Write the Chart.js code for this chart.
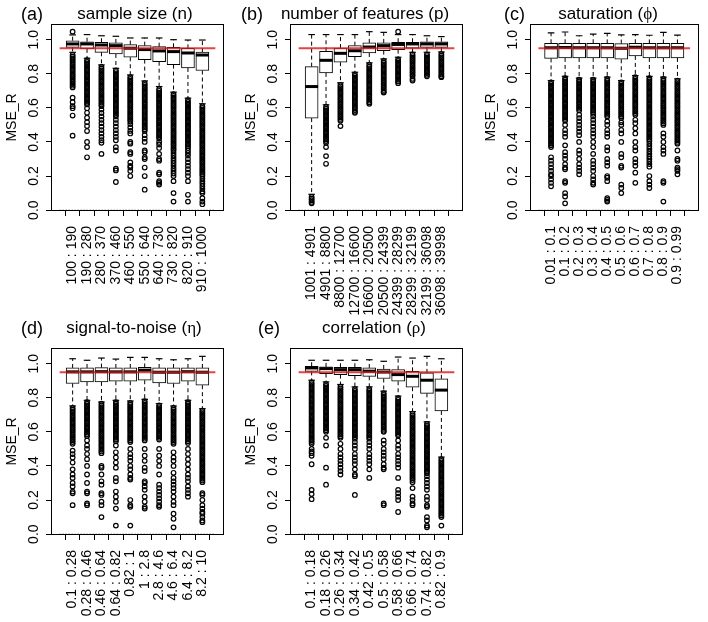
<!DOCTYPE html>
<html>
<head>
<meta charset="utf-8">
<script src="https://cdn.jsdelivr.net/npm/chart.js@4.4.1/dist/chart.umd.min.js"></script>
<style>
  body { margin: 0; width: 708px; height: 622px; background: #fff; position: relative; overflow: hidden;
         font-family: 'Liberation Sans', Arial, sans-serif; color: #000; }
  canvas { position: absolute; }
  .tag { position: absolute; font-size: 18px; line-height: 22px; white-space: nowrap; }
  .title { position: absolute; font-size: 17px; line-height: 20px; white-space: nowrap; transform: translateX(-50%); }
  .greek { font-family: 'Liberation Serif', 'DejaVu Serif', serif; }
</style>
</head>
<body>
<canvas id="panelA" width="236" height="330" style="left:1px;top:0"></canvas>
<canvas id="panelB" width="236" height="330" style="left:240px;top:0"></canvas>
<canvas id="panelC" width="228" height="330" style="left:480px;top:0"></canvas>
<canvas id="panelD" width="236" height="298" style="left:1px;top:324px"></canvas>
<canvas id="panelE" width="236" height="298" style="left:240px;top:324px"></canvas>

<div class="tag" style="left:21px;top:3px">(a)</div>
<div class="title" style="left:135px;top:4px">sample size (n)</div>
<div class="tag" style="left:241px;top:3px">(b)</div>
<div class="title" style="left:365px;top:4px">number of features (p)</div>
<div class="tag" style="left:504px;top:3px">(c)</div>
<div class="title" style="left:608px;top:4px">saturation (<span class="greek">ϕ</span>)</div>
<div class="tag" style="left:21px;top:317px">(d)</div>
<div class="title" style="left:134px;top:318px">signal-to-noise (<span class="greek">η</span>)</div>
<div class="tag" style="left:258px;top:317px">(e)</div>
<div class="title" style="left:374px;top:318px">correlation (<span class="greek">ρ</span>)</div>

<script>
Chart.defaults.font.family = "'Liberation Sans', Arial, sans-serif";
Chart.defaults.color = '#000';

const yTicks = [0, 0.2, 0.4, 0.6, 0.8, 1.0];
const refLevel = 0.95;

// (a) sample size
const aLabels = ['100 : 190', '190 : 280', '280 : 370', '370 : 460', '460 : 550', '550 : 640', '640 : 730', '730 : 820', '820 : 910', '910 : 1000'];
const aUpper = [1.028, 1.03, 1.023, 1.02, 1.01, 1.01, 1.01, 1.0, 0.998, 0.998];
const aQ3 = [0.994, 0.988, 0.985, 0.981, 0.971, 0.965, 0.959, 0.955, 0.949, 0.927];
const aMedian = [0.975, 0.975, 0.969, 0.965, 0.95, 0.942, 0.934, 0.93, 0.922, 0.91];
const aQ1 = [0.955, 0.946, 0.926, 0.916, 0.897, 0.883, 0.871, 0.854, 0.834, 0.819];
const aLower = [0.926, 0.891, 0.852, 0.832, 0.793, 0.758, 0.725, 0.692, 0.657, 0.624];
const aOut = [
  [1.047, 0.91, 0.9, 0.89, 0.88, 0.87, 0.86, 0.85, 0.84, 0.83, 0.82, 0.81, 0.8, 0.79, 0.78, 0.77, 0.76, 0.75, 0.74, 0.73, 0.72, 0.66, 0.633, 0.61, 0.598, 0.555, 0.437],
  [0.88, 0.87, 0.86, 0.85, 0.84, 0.83, 0.82, 0.81, 0.8, 0.79, 0.78, 0.77, 0.76, 0.75, 0.74, 0.73, 0.72, 0.71, 0.7, 0.69, 0.68, 0.67, 0.66, 0.65, 0.64, 0.63, 0.62, 0.598, 0.571, 0.542, 0.516, 0.493, 0.464, 0.4, 0.37, 0.31],
  [0.84, 0.83, 0.82, 0.81, 0.8, 0.79, 0.78, 0.77, 0.76, 0.75, 0.74, 0.73, 0.72, 0.71, 0.7, 0.69, 0.68, 0.67, 0.66, 0.65, 0.64, 0.63, 0.62, 0.61, 0.59, 0.57, 0.55, 0.53, 0.51, 0.49, 0.47, 0.45, 0.43, 0.41, 0.395, 0.33],
  [0.82, 0.81, 0.8, 0.79, 0.78, 0.77, 0.76, 0.75, 0.74, 0.73, 0.72, 0.71, 0.7, 0.69, 0.68, 0.67, 0.66, 0.65, 0.64, 0.63, 0.62, 0.61, 0.6, 0.59, 0.58, 0.57, 0.56, 0.55, 0.53, 0.51, 0.49, 0.47, 0.45, 0.43, 0.41, 0.37, 0.35, 0.243, 0.233, 0.165],
  [0.78, 0.77, 0.76, 0.75, 0.74, 0.73, 0.72, 0.71, 0.7, 0.69, 0.68, 0.67, 0.66, 0.65, 0.64, 0.63, 0.62, 0.61, 0.6, 0.59, 0.58, 0.57, 0.56, 0.55, 0.54, 0.53, 0.52, 0.505, 0.485, 0.465, 0.45, 0.4, 0.39, 0.34, 0.33, 0.28, 0.26, 0.25, 0.23, 0.2],
  [0.745, 0.735, 0.725, 0.715, 0.705, 0.695, 0.685, 0.675, 0.665, 0.655, 0.645, 0.635, 0.625, 0.615, 0.605, 0.595, 0.585, 0.575, 0.565, 0.555, 0.545, 0.535, 0.525, 0.515, 0.505, 0.495, 0.485, 0.475, 0.465, 0.44, 0.42, 0.4, 0.35, 0.34, 0.31, 0.3, 0.25, 0.2, 0.12],
  [0.71, 0.7, 0.69, 0.68, 0.67, 0.66, 0.65, 0.64, 0.63, 0.62, 0.61, 0.6, 0.59, 0.58, 0.57, 0.56, 0.55, 0.54, 0.53, 0.52, 0.51, 0.5, 0.49, 0.48, 0.47, 0.46, 0.45, 0.44, 0.43, 0.42, 0.4, 0.385, 0.365, 0.33, 0.3, 0.29, 0.22, 0.21, 0.17, 0.16, 0.15],
  [0.68, 0.67, 0.66, 0.65, 0.64, 0.63, 0.62, 0.61, 0.6, 0.59, 0.58, 0.57, 0.56, 0.55, 0.54, 0.53, 0.52, 0.51, 0.5, 0.49, 0.48, 0.47, 0.46, 0.45, 0.44, 0.43, 0.42, 0.41, 0.4, 0.39, 0.38, 0.37, 0.36, 0.35, 0.335, 0.32, 0.305, 0.29, 0.275, 0.26, 0.245, 0.23, 0.215, 0.2, 0.17, 0.1, 0.05],
  [0.645, 0.635, 0.625, 0.615, 0.605, 0.595, 0.585, 0.575, 0.565, 0.555, 0.545, 0.535, 0.525, 0.515, 0.505, 0.495, 0.485, 0.475, 0.465, 0.455, 0.445, 0.435, 0.425, 0.415, 0.405, 0.395, 0.385, 0.375, 0.365, 0.35, 0.335, 0.32, 0.3, 0.28, 0.26, 0.24, 0.22, 0.2, 0.17, 0.09, 0.05],
  [0.61, 0.6, 0.59, 0.58, 0.57, 0.56, 0.55, 0.54, 0.53, 0.52, 0.51, 0.5, 0.49, 0.48, 0.47, 0.46, 0.45, 0.44, 0.43, 0.42, 0.41, 0.4, 0.39, 0.38, 0.37, 0.36, 0.35, 0.34, 0.33, 0.32, 0.31, 0.3, 0.29, 0.28, 0.27, 0.26, 0.25, 0.24, 0.23, 0.22, 0.21, 0.2, 0.185, 0.17, 0.155, 0.14, 0.125, 0.11, 0.1, 0.07, 0.05, 0.035]
];

// (b) number of features
const bLabels = ['1001 : 4901', '4901 : 8800', '8800 : 12700', '12700 : 16600', '16600 : 20500', '20500 : 24399', '24399 : 28299', '28299 : 32199', '32199 : 36098', '36098 : 39998'];
const bUpper = [1.03, 1.03, 1.03, 1.03, 1.047, 1.043, 1.03, 1.03, 1.023, 1.018];
const bQ3 = [0.842, 0.932, 0.951, 0.965, 0.981, 0.981, 0.985, 0.985, 0.988, 0.988];
const bMedian = [0.725, 0.879, 0.92, 0.935, 0.957, 0.965, 0.972, 0.975, 0.975, 0.975];
const bQ1 = [0.54, 0.805, 0.868, 0.9, 0.922, 0.936, 0.942, 0.95, 0.955, 0.955];
const bLower = [0.093, 0.618, 0.747, 0.809, 0.864, 0.887, 0.897, 0.926, 0.926, 0.928];
const bOut = [
  [0.077, 0.067, 0.058, 0.048, 0.04],
  [0.605, 0.595, 0.585, 0.575, 0.565, 0.555, 0.545, 0.535, 0.525, 0.515, 0.505, 0.495, 0.485, 0.475, 0.465, 0.455, 0.445, 0.435, 0.425, 0.415, 0.405, 0.395, 0.37, 0.317, 0.272],
  [0.735, 0.725, 0.715, 0.705, 0.695, 0.685, 0.675, 0.665, 0.655, 0.645, 0.635, 0.625, 0.615, 0.605, 0.595, 0.585, 0.575, 0.565, 0.555, 0.545, 0.535, 0.525, 0.493],
  [0.797, 0.787, 0.777, 0.767, 0.757, 0.747, 0.737, 0.727, 0.717, 0.707, 0.697, 0.687, 0.677, 0.667, 0.657, 0.647, 0.637, 0.627, 0.617, 0.607, 0.597, 0.587, 0.577, 0.571],
  [0.852, 0.842, 0.832, 0.822, 0.812, 0.802, 0.792, 0.782, 0.772, 0.762, 0.752, 0.742, 0.732, 0.722, 0.712, 0.702, 0.692, 0.682, 0.672, 0.662, 0.652, 0.642, 0.632, 0.624],
  [0.875, 0.865, 0.855, 0.845, 0.835, 0.825, 0.815, 0.805, 0.795, 0.785, 0.775, 0.765, 0.755, 0.745, 0.735, 0.725, 0.715, 0.705, 0.695, 0.69],
  [1.047, 0.885, 0.875, 0.865, 0.855, 0.845, 0.835, 0.825, 0.815, 0.805, 0.795, 0.785, 0.775, 0.765, 0.755, 0.745],
  [0.914, 0.904, 0.894, 0.884, 0.874, 0.864, 0.854, 0.844, 0.834, 0.824, 0.814, 0.804, 0.794, 0.785, 0.77, 0.76],
  [0.914, 0.904, 0.894, 0.884, 0.874, 0.864, 0.854, 0.844, 0.834, 0.824, 0.814, 0.804, 0.794, 0.785],
  [0.916, 0.906, 0.896, 0.886, 0.876, 0.866, 0.856, 0.846, 0.836, 0.826, 0.816, 0.806, 0.796, 0.786, 0.78]
];

// (c) saturation
const cLabels = ['0.01 : 0.1', '0.1 : 0.2', '0.2 : 0.3', '0.3 : 0.4', '0.4 : 0.5', '0.5 : 0.6', '0.6 : 0.7', '0.7 : 0.8', '0.8 : 0.9', '0.9 : 0.99'];
const cUpper = [1.04, 1.045, 1.023, 1.033, 1.037, 1.028, 1.03, 1.026, 1.043, 1.027];
const cQ3 = [0.979, 0.979, 0.978, 0.979, 0.978, 0.977, 0.979, 0.978, 0.978, 0.978];
const cMedian = [0.953, 0.954, 0.953, 0.953, 0.953, 0.95, 0.955, 0.953, 0.953, 0.952];
const cQ1 = [0.89, 0.893, 0.893, 0.893, 0.893, 0.885, 0.905, 0.893, 0.893, 0.893];
const cLower = [0.76, 0.785, 0.774, 0.774, 0.78, 0.76, 0.79, 0.785, 0.78, 0.77];
const cOut = [
  [0.75, 0.74, 0.73, 0.72, 0.71, 0.7, 0.69, 0.68, 0.67, 0.66, 0.65, 0.64, 0.63, 0.62, 0.61, 0.6, 0.59, 0.58, 0.57, 0.56, 0.55, 0.54, 0.53, 0.52, 0.51, 0.5, 0.49, 0.48, 0.47, 0.46, 0.45, 0.44, 0.43, 0.42, 0.41, 0.4, 0.39, 0.38, 0.37, 0.31, 0.29, 0.27, 0.25, 0.23, 0.21, 0.2, 0.18, 0.16, 0.14],
  [0.775, 0.765, 0.755, 0.745, 0.735, 0.725, 0.715, 0.705, 0.695, 0.685, 0.675, 0.665, 0.655, 0.645, 0.635, 0.625, 0.615, 0.605, 0.595, 0.585, 0.575, 0.565, 0.555, 0.545, 0.535, 0.525, 0.5, 0.47, 0.45, 0.43, 0.38, 0.34, 0.32, 0.3, 0.27, 0.25, 0.24, 0.17, 0.16, 0.1, 0.08, 0.04],
  [0.765, 0.755, 0.745, 0.735, 0.725, 0.715, 0.705, 0.695, 0.685, 0.675, 0.665, 0.655, 0.645, 0.635, 0.625, 0.615, 0.605, 0.595, 0.585, 0.56, 0.54, 0.52, 0.5, 0.48, 0.46, 0.44, 0.4, 0.35, 0.33, 0.3, 0.27, 0.25, 0.23, 0.21],
  [0.765, 0.755, 0.745, 0.735, 0.725, 0.715, 0.705, 0.695, 0.685, 0.675, 0.665, 0.655, 0.645, 0.635, 0.625, 0.615, 0.605, 0.595, 0.585, 0.575, 0.565, 0.55, 0.53, 0.51, 0.49, 0.47, 0.45, 0.43, 0.4, 0.37, 0.33, 0.29, 0.27, 0.25, 0.23, 0.2, 0.18, 0.16, 0.15],
  [0.77, 0.76, 0.75, 0.74, 0.73, 0.72, 0.71, 0.7, 0.69, 0.68, 0.67, 0.66, 0.65, 0.64, 0.63, 0.62, 0.61, 0.6, 0.59, 0.58, 0.57, 0.56, 0.55, 0.52, 0.5, 0.47, 0.45, 0.43, 0.37, 0.35, 0.3, 0.28, 0.26, 0.2, 0.19, 0.17, 0.07, 0.06, 0.05],
  [0.75, 0.74, 0.73, 0.72, 0.71, 0.7, 0.69, 0.68, 0.67, 0.66, 0.65, 0.64, 0.63, 0.62, 0.61, 0.6, 0.59, 0.58, 0.57, 0.56, 0.55, 0.54, 0.515, 0.5, 0.47, 0.45, 0.4, 0.33, 0.31, 0.26, 0.25, 0.15, 0.13, 0.1],
  [0.78, 0.77, 0.76, 0.75, 0.74, 0.73, 0.72, 0.71, 0.7, 0.69, 0.68, 0.67, 0.66, 0.65, 0.64, 0.63, 0.62, 0.61, 0.6, 0.59, 0.58, 0.57, 0.56, 0.53, 0.51, 0.48, 0.45, 0.4, 0.37, 0.35, 0.3, 0.28, 0.26, 0.22, 0.16],
  [0.775, 0.765, 0.755, 0.745, 0.735, 0.725, 0.715, 0.705, 0.695, 0.685, 0.675, 0.665, 0.655, 0.645, 0.635, 0.625, 0.615, 0.605, 0.595, 0.585, 0.575, 0.565, 0.555, 0.545, 0.535, 0.525, 0.515, 0.505, 0.495, 0.485, 0.475, 0.465, 0.455, 0.445, 0.435, 0.425, 0.415, 0.405, 0.39, 0.375, 0.36, 0.345, 0.33, 0.315, 0.3, 0.285, 0.27, 0.255, 0.2, 0.17, 0.15, 0.13],
  [0.77, 0.76, 0.75, 0.74, 0.73, 0.72, 0.71, 0.7, 0.69, 0.68, 0.67, 0.66, 0.65, 0.64, 0.63, 0.62, 0.61, 0.6, 0.59, 0.58, 0.57, 0.56, 0.55, 0.54, 0.53, 0.52, 0.51, 0.5, 0.45, 0.43, 0.4, 0.37, 0.35, 0.33, 0.17, 0.16, 0.05],
  [0.76, 0.75, 0.74, 0.73, 0.72, 0.71, 0.7, 0.69, 0.68, 0.67, 0.66, 0.65, 0.64, 0.63, 0.62, 0.61, 0.6, 0.59, 0.58, 0.57, 0.56, 0.55, 0.54, 0.53, 0.52, 0.51, 0.5, 0.49, 0.48, 0.47, 0.46, 0.45, 0.44, 0.43, 0.42, 0.41, 0.4, 0.39, 0.35, 0.3, 0.29, 0.25, 0.24, 0.23, 0.21]
];

// (d) signal-to-noise
const dLabels = ['0.1 : 0.28', '0.28 : 0.46', '0.46 : 0.64', '0.64 : 0.82', '0.82 : 1', '1 : 2.8', '2.8 : 4.6', '4.6 : 6.4', '6.4 : 8.2', '8.2 : 10'];
const dUpper = [1.029, 1.02, 1.033, 1.027, 1.037, 1.037, 1.029, 1.023, 1.029, 1.043];
const dQ3 = [0.975, 0.975, 0.977, 0.975, 0.975, 0.978, 0.975, 0.975, 0.975, 0.975];
const dMedian = [0.952, 0.952, 0.953, 0.952, 0.952, 0.962, 0.95, 0.95, 0.953, 0.95];
const dQ1 = [0.884, 0.893, 0.893, 0.897, 0.897, 0.903, 0.887, 0.884, 0.897, 0.874];
const dLower = [0.752, 0.785, 0.775, 0.785, 0.781, 0.791, 0.766, 0.752, 0.785, 0.736];
const dOut = [
  [0.74, 0.73, 0.72, 0.71, 0.7, 0.69, 0.68, 0.67, 0.66, 0.65, 0.64, 0.63, 0.62, 0.61, 0.6, 0.59, 0.58, 0.57, 0.56, 0.55, 0.54, 0.53, 0.49, 0.47, 0.45, 0.42, 0.38, 0.35, 0.33, 0.3, 0.28, 0.25, 0.24, 0.17],
  [0.775, 0.765, 0.755, 0.745, 0.735, 0.725, 0.715, 0.705, 0.695, 0.685, 0.675, 0.665, 0.655, 0.645, 0.635, 0.625, 0.615, 0.605, 0.595, 0.585, 0.575, 0.55, 0.52, 0.5, 0.47, 0.44, 0.4, 0.35, 0.3, 0.25, 0.24, 0.18, 0.17],
  [0.765, 0.755, 0.745, 0.735, 0.725, 0.715, 0.705, 0.695, 0.685, 0.675, 0.665, 0.655, 0.645, 0.635, 0.625, 0.615, 0.605, 0.595, 0.585, 0.575, 0.565, 0.555, 0.545, 0.535, 0.525, 0.515, 0.505, 0.495, 0.485, 0.475, 0.4, 0.39, 0.35, 0.31, 0.29, 0.24, 0.23, 0.19, 0.17, 0.1],
  [0.775, 0.765, 0.755, 0.745, 0.735, 0.725, 0.715, 0.705, 0.695, 0.685, 0.675, 0.665, 0.655, 0.645, 0.635, 0.625, 0.615, 0.605, 0.595, 0.585, 0.575, 0.565, 0.555, 0.545, 0.52, 0.48, 0.45, 0.42, 0.39, 0.33, 0.31, 0.25, 0.22, 0.19, 0.15, 0.05],
  [0.77, 0.76, 0.75, 0.74, 0.73, 0.72, 0.71, 0.7, 0.69, 0.68, 0.67, 0.66, 0.65, 0.64, 0.63, 0.62, 0.61, 0.6, 0.59, 0.58, 0.57, 0.56, 0.55, 0.54, 0.5, 0.47, 0.45, 0.43, 0.4, 0.38, 0.35, 0.33, 0.32, 0.2, 0.17, 0.16, 0.05],
  [0.78, 0.77, 0.76, 0.75, 0.74, 0.73, 0.72, 0.71, 0.7, 0.69, 0.68, 0.67, 0.66, 0.65, 0.64, 0.63, 0.62, 0.61, 0.6, 0.59, 0.58, 0.57, 0.56, 0.55, 0.5, 0.46, 0.43, 0.39, 0.37, 0.31, 0.3, 0.28, 0.26, 0.22, 0.19, 0.16, 0.15],
  [0.755, 0.745, 0.735, 0.725, 0.715, 0.705, 0.695, 0.685, 0.675, 0.665, 0.655, 0.645, 0.635, 0.625, 0.615, 0.605, 0.595, 0.585, 0.575, 0.565, 0.555, 0.5, 0.46, 0.43, 0.4, 0.35, 0.29, 0.27, 0.25, 0.23, 0.21, 0.19, 0.17, 0.16],
  [0.74, 0.73, 0.72, 0.71, 0.7, 0.69, 0.68, 0.67, 0.66, 0.65, 0.64, 0.63, 0.62, 0.61, 0.6, 0.59, 0.58, 0.57, 0.56, 0.55, 0.54, 0.53, 0.48, 0.45, 0.43, 0.4, 0.36, 0.33, 0.31, 0.29, 0.27, 0.25, 0.22, 0.19, 0.17, 0.12, 0.09, 0.04],
  [0.775, 0.765, 0.755, 0.745, 0.735, 0.725, 0.715, 0.705, 0.695, 0.685, 0.675, 0.665, 0.655, 0.645, 0.635, 0.625, 0.615, 0.605, 0.595, 0.585, 0.575, 0.565, 0.555, 0.545, 0.535, 0.5, 0.47, 0.44, 0.41, 0.38, 0.35, 0.33, 0.31, 0.28, 0.26, 0.24, 0.22],
  [0.725, 0.715, 0.705, 0.695, 0.685, 0.675, 0.665, 0.655, 0.645, 0.635, 0.625, 0.615, 0.605, 0.595, 0.585, 0.575, 0.565, 0.555, 0.545, 0.535, 0.525, 0.515, 0.505, 0.495, 0.485, 0.475, 0.465, 0.455, 0.445, 0.435, 0.425, 0.415, 0.405, 0.395, 0.385, 0.375, 0.365, 0.355, 0.345, 0.335, 0.325, 0.315, 0.305, 0.24, 0.23, 0.2, 0.17, 0.15, 0.13, 0.12, 0.1, 0.08, 0.07]
];

// (e) correlation
const eLabels = ['0.1 : 0.18', '0.18 : 0.26', '0.26 : 0.34', '0.34 : 0.42', '0.42 : 0.5', '0.5 : 0.58', '0.58 : 0.66', '0.66 : 0.74', '0.74 : 0.82', '0.82 : 0.9'];
const eUpper = [1.02, 1.02, 1.02, 1.02, 1.023, 1.014, 1.039, 1.033, 1.043, 1.029];
const eQ3 = [0.985, 0.981, 0.979, 0.979, 0.975, 0.969, 0.965, 0.955, 0.946, 0.911];
const eMedian = [0.975, 0.971, 0.965, 0.965, 0.956, 0.951, 0.936, 0.926, 0.903, 0.845];
const eQ1 = [0.955, 0.942, 0.936, 0.93, 0.926, 0.913, 0.897, 0.862, 0.826, 0.723];
const eLower = [0.903, 0.893, 0.878, 0.864, 0.864, 0.839, 0.81, 0.719, 0.659, 0.452];
const eOut = [
  [0.89, 0.88, 0.87, 0.86, 0.85, 0.84, 0.83, 0.82, 0.81, 0.8, 0.79, 0.78, 0.77, 0.76, 0.75, 0.74, 0.73, 0.72, 0.71, 0.7, 0.69, 0.68, 0.67, 0.66, 0.65, 0.64, 0.63, 0.62, 0.61, 0.6, 0.59, 0.58, 0.57, 0.56, 0.55, 0.54, 0.53, 0.5, 0.485, 0.475, 0.46, 0.41, 0.26, 0.235, 0.205],
  [0.88, 0.87, 0.86, 0.85, 0.84, 0.83, 0.82, 0.81, 0.8, 0.79, 0.78, 0.77, 0.76, 0.75, 0.74, 0.73, 0.72, 0.71, 0.7, 0.69, 0.68, 0.67, 0.66, 0.65, 0.64, 0.63, 0.62, 0.61, 0.6, 0.565, 0.52, 0.39, 0.29],
  [0.865, 0.855, 0.845, 0.835, 0.825, 0.815, 0.805, 0.795, 0.785, 0.775, 0.765, 0.755, 0.745, 0.735, 0.725, 0.715, 0.705, 0.695, 0.685, 0.675, 0.665, 0.655, 0.645, 0.635, 0.625, 0.615, 0.605, 0.595, 0.585, 0.575, 0.565, 0.53, 0.5, 0.47, 0.45, 0.43, 0.41, 0.39, 0.37, 0.35],
  [0.85, 0.84, 0.83, 0.82, 0.81, 0.8, 0.79, 0.78, 0.77, 0.76, 0.75, 0.74, 0.73, 0.72, 0.71, 0.7, 0.69, 0.68, 0.67, 0.66, 0.65, 0.64, 0.63, 0.62, 0.61, 0.6, 0.59, 0.58, 0.57, 0.56, 0.54, 0.52, 0.5, 0.47, 0.45, 0.43, 0.41, 0.38, 0.35, 0.34, 0.23],
  [0.85, 0.84, 0.83, 0.82, 0.81, 0.8, 0.79, 0.78, 0.77, 0.76, 0.75, 0.74, 0.73, 0.72, 0.71, 0.7, 0.69, 0.68, 0.67, 0.66, 0.65, 0.64, 0.63, 0.62, 0.61, 0.6, 0.59, 0.58, 0.57, 0.56, 0.54, 0.52, 0.5, 0.47, 0.45, 0.43, 0.41, 0.38, 0.33],
  [0.827, 0.817, 0.807, 0.797, 0.787, 0.777, 0.767, 0.757, 0.747, 0.737, 0.727, 0.717, 0.707, 0.697, 0.687, 0.677, 0.667, 0.657, 0.647, 0.637, 0.627, 0.617, 0.607, 0.6, 0.55, 0.53, 0.5, 0.48, 0.46, 0.44, 0.41, 0.39, 0.38, 0.18, 0.17],
  [0.798, 0.788, 0.778, 0.768, 0.758, 0.748, 0.738, 0.728, 0.718, 0.708, 0.698, 0.688, 0.678, 0.668, 0.658, 0.648, 0.638, 0.628, 0.618, 0.608, 0.598, 0.588, 0.578, 0.55, 0.52, 0.5, 0.47, 0.45, 0.43, 0.41, 0.39, 0.33, 0.26, 0.24, 0.22, 0.2, 0.13],
  [0.707, 0.697, 0.687, 0.677, 0.667, 0.657, 0.647, 0.637, 0.627, 0.617, 0.607, 0.597, 0.587, 0.577, 0.567, 0.557, 0.547, 0.537, 0.527, 0.517, 0.507, 0.497, 0.487, 0.477, 0.467, 0.457, 0.447, 0.437, 0.427, 0.417, 0.407, 0.397, 0.387, 0.377, 0.367, 0.357, 0.347, 0.337, 0.327, 0.317, 0.305, 0.27, 0.22, 0.2, 0.18, 0.17],
  [0.647, 0.637, 0.627, 0.617, 0.607, 0.597, 0.587, 0.577, 0.567, 0.557, 0.547, 0.537, 0.527, 0.517, 0.507, 0.497, 0.487, 0.477, 0.467, 0.457, 0.447, 0.437, 0.427, 0.417, 0.407, 0.397, 0.387, 0.377, 0.367, 0.357, 0.34, 0.32, 0.3, 0.28, 0.26, 0.22, 0.2, 0.17, 0.16, 0.1, 0.08, 0.05, 0.04],
  [0.44, 0.43, 0.42, 0.41, 0.4, 0.39, 0.38, 0.37, 0.36, 0.35, 0.34, 0.33, 0.32, 0.31, 0.3, 0.29, 0.28, 0.27, 0.26, 0.25, 0.24, 0.23, 0.22, 0.21, 0.2, 0.19, 0.18, 0.17, 0.16, 0.15, 0.14, 0.13, 0.12, 0.11, 0.1, 0.05]
];

// box around the plot region, like R's box()
const framePlugin = {
    id: 'frame',
    afterDatasetsDraw(chart) {
        const a = chart.chartArea;
        const ctx = chart.ctx;
        ctx.save();
        ctx.strokeStyle = '#000';
        ctx.lineWidth = 1;
        ctx.strokeRect(Math.round(a.left) + 0.5, Math.round(a.top) + 0.5,
            Math.round(a.right - a.left) - 1, Math.round(a.bottom - a.top) - 1);
        ctx.restore();
    },
};

function boxChart(id, labels, upper, q3, median, q1, lower, outliers, axisHeight, rightPad) {
    const xs = labels.map((_, i) => i + 1);

    let whiskers = [];
    let caps = [];
    xs.forEach((x, i) => {
        whiskers.push({x: x, y: q3[i]}, {x: x, y: upper[i]}, {x: x, y: null},
                      {x: x, y: q1[i]}, {x: x, y: lower[i]}, {x: x, y: null});
        caps.push({x: x, y: upper[i]}, {x: x, y: lower[i]});
    });

    let points = [];
    outliers.forEach((list, i) => {
        list.forEach(v => points.push({x: xs[i], y: v}));
    });

    new Chart(document.getElementById(id), {
        type: 'bar',
        data: {
            datasets: [
                {
                    type: 'line',
                    data: [{x: 0.1, y: refLevel}, {x: 10.9, y: refLevel}],
                    borderColor: 'rgba(222, 20, 20, 0.8)',
                    borderWidth: 2,
                    pointRadius: 0,
                    order: 0,
                },
                {
                    type: 'scatter',
                    data: xs.map((x, i) => ({x: x, y: median[i]})),
                    pointStyle: 'line',
                    pointRadius: 6.5,
                    pointBorderWidth: 3,
                    borderColor: '#000',
                    order: 1,
                },
                {
                    type: 'bar',
                    data: xs.map((x, i) => ({x: x, y: [q1[i], q3[i]]})),
                    backgroundColor: '#fff',
                    borderColor: '#000',
                    borderWidth: 1,
                    borderSkipped: false,
                    barThickness: 13,
                    order: 2,
                },
                {
                    type: 'line',
                    data: whiskers,
                    borderColor: '#000',
                    borderWidth: 1,
                    borderDash: [4, 3],
                    pointRadius: 0,
                    spanGaps: false,
                    order: 3,
                },
                {
                    type: 'scatter',
                    data: caps,
                    pointStyle: 'line',
                    pointRadius: 3.3,
                    pointBorderWidth: 1.2,
                    borderColor: '#000',
                    order: 3,
                },
                {
                    type: 'scatter',
                    data: points,
                    pointStyle: 'circle',
                    pointRadius: 2.3,
                    pointBorderWidth: 1.2,
                    borderColor: '#000',
                    backgroundColor: 'rgba(0,0,0,0)',
                    order: 4,
                },
                {
                    type: 'line',
                    data: [{x: 0.1, y: 0}, {x: 10.9, y: 0}],
                    borderColor: '#333',
                    borderWidth: 1,
                    borderDash: [1, 2],
                    pointRadius: 0,
                    order: 5,
                },
            ],
        },
        options: {
            responsive: false,
            animation: false,
            devicePixelRatio: 1,
            events: [],
            layout: {
                padding: {top: 24, right: rightPad, left: 0, bottom: 0},
            },
            plugins: {
                legend: {display: false},
                tooltip: {enabled: false},
            },
            scales: {
                x: {
                    type: 'linear',
                    min: 0.1,
                    max: 10.9,
                    afterBuildTicks: scale => {
                        scale.ticks = xs.map(v => ({value: v}));
                    },
                    afterFit: scale => {
                        scale.height = axisHeight;
                    },
                    border: {display: false},
                    grid: {drawOnChartArea: false, drawTicks: true, tickLength: 5, color: '#000'},
                    ticks: {
                        autoSkip: false,
                        minRotation: 90,
                        maxRotation: 90,
                        padding: 10,
                        font: {size: 14},
                        callback: (value, index) => labels[index],
                    },
                },
                y: {
                    type: 'linear',
                    min: -0.005,
                    max: 1.092,
                    afterBuildTicks: scale => {
                        scale.ticks = yTicks.map(v => ({value: v}));
                    },
                    afterFit: scale => {
                        scale.width = 50;
                    },
                    border: {display: false},
                    grid: {drawOnChartArea: false, drawTicks: true, tickLength: 5, color: '#000'},
                    ticks: {
                        minRotation: 90,
                        maxRotation: 90,
                        crossAlign: 'center',
                        padding: 2,
                        font: {size: 14},
                        callback: value => value.toFixed(1),
                    },
                    title: {
                        display: true,
                        text: 'MSE_R',
                        font: {size: 14},
                        padding: {top: 3, bottom: 0},
                    },
                },
            },
        },
        plugins: [framePlugin],
    });
}

boxChart('panelA', aLabels, aUpper, aQ3, aMedian, aQ1, aLower, aOut, 119, 13);
boxChart('panelB', bLabels, bUpper, bQ3, bMedian, bQ1, bLower, bOut, 119, 13);
boxChart('panelC', cLabels, cUpper, cQ3, cMedian, cQ1, cLower, cOut, 119, 5);
boxChart('panelD', dLabels, dUpper, dQ3, dMedian, dQ1, dLower, dOut, 87, 13);
boxChart('panelE', eLabels, eUpper, eQ3, eMedian, eQ1, eLower, eOut, 87, 13);
</script>
</body>
</html>
